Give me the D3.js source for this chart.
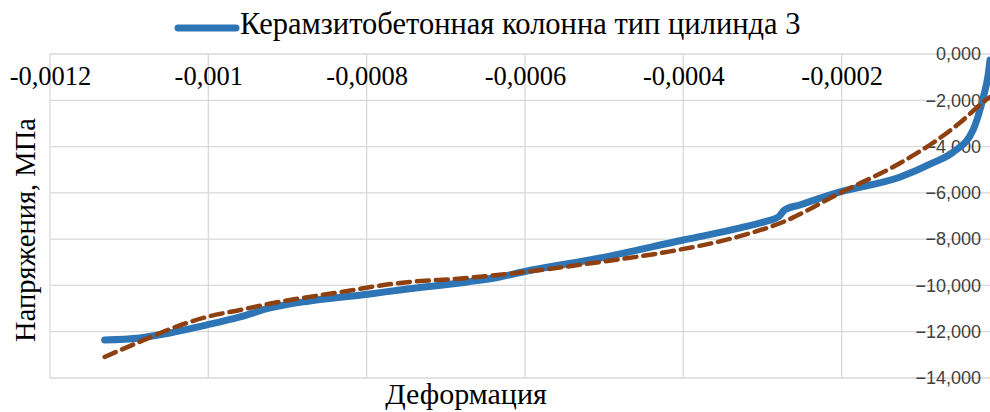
<!DOCTYPE html>
<html>
<head>
<meta charset="utf-8">
<script src="https://cdn.jsdelivr.net/npm/d3@7"></script>
<style>
  body { margin: 0; background: #fff; overflow: hidden; }
  svg { display: block; }
</style>
</head>
<body>
<div id="chart"></div>
<script>
// data
var xTicks = [-0.0012, -0.001, -0.0008, -0.0006, -0.0004, -0.0002];
var yTicks = [0, -2000, -4000, -6000, -8000, -10000, -12000, -14000];

var blueX = [-0.001131, -0.001087, -0.001049, -0.001002, -0.00096, -0.000922, -0.000872, -0.000796, -0.000758,
  -0.000673, -0.000632, -0.000603, -0.000505, -0.0004, -0.000328, -0.000294, -0.00028, -0.000272, -0.000253,
  -0.000202, -0.000126, -0.000085, -0.000059, -0.000034, -0.000028, -0.000021, -0.000015, -0.0000126];
var blueY = [-12355, -12269, -12053, -11707, -11362, -10973, -10670, -10368, -10195,
  -9850, -9634, -9418, -8813, -8035, -7517, -7214, -7042, -6739, -6523,
  -5962, -5314, -4709, -4234, -3283, -2722, -1858, -907, -259];

var trendX = [-0.001131, -0.001087, -0.001045, -0.001002, -0.00096, -0.000918, -0.00084, -0.000758, -0.000673,
  -0.00059, -0.000505, -0.000421, -0.000337, -0.000274, -0.000202, -0.000126, -0.000085, -0.000051, -0.000021, -0.0000126];
var trendY = [-13090, -12442, -11837, -11362, -11059, -10757, -10325, -9893, -9677,
  -9374, -8986, -8554, -7949, -7258, -6005, -4709, -3845, -2981, -2074, -1860];

var legendText = "Керамзитобетонная колонна тип цилинда 3";

var svgWidth = 990;
var svgHeight = 412;

var svg = d3.select("#chart")
  .append("svg")
  .attr("width", svgWidth)
  .attr("height", svgHeight);

var x = d3.scaleLinear().domain([-0.0012, 0]).range([50, 1000]);
var y = d3.scaleLinear().domain([0, -14000]).range([54, 378]);

// gridlines
svg.append("g")
  .selectAll("line.v")
  .data(xTicks)
  .enter()
  .append("line")
  .attr("x1", d => x(d)).attr("x2", d => x(d))
  .attr("y1", y(0)).attr("y2", y(-14000))
  .attr("stroke", "#d9d9d9").attr("stroke-width", 1.3);

svg.append("g")
  .selectAll("line.h")
  .data(yTicks)
  .enter()
  .append("line")
  .attr("x1", x(-0.0012)).attr("x2", x(0))
  .attr("y1", d => y(d)).attr("y2", d => y(d))
  .attr("stroke", "#d9d9d9").attr("stroke-width", 1.3);

// x tick labels (top)
var fmtX = d => String(+d.toPrecision(2)).replace(".", ",");
var xAxis = d3.axisBottom(x).tickValues(xTicks).tickSize(0).tickPadding(0).tickFormat(fmtX);
var gx = svg.append("g").attr("transform", "translate(0, 66)").call(xAxis);
gx.select(".domain").remove();
gx.selectAll("text")
  .attr("font-family", "Liberation Serif, Times New Roman, serif")
  .attr("font-size", "26.5px")
  .attr("fill", "#000")
  .attr("dy", "0.71em");

// y tick labels (right side, left of axis at x=0)
var fmtY = d => d3.format(",.3f")(d / 1000).replace(".", ",");
var yAxis = d3.axisLeft(y).tickValues(yTicks).tickSize(0).tickPadding(0).tickFormat(fmtY);
var gy = svg.append("g").attr("transform", "translate(981, 0)").call(yAxis);
gy.select(".domain").remove();
gy.selectAll("text")
  .attr("font-family", "Liberation Sans, Arial, sans-serif")
  .attr("font-size", "18px")
  .attr("fill", "#404040");

var line = d3.line()
  .x(d => x(d[0]))
  .y(d => y(d[1]))
  .curve(d3.curveMonotoneX);

svg.append("path")
  .datum(blueX.map((v, i) => [v, blueY[i]]))
  .attr("d", line)
  .attr("fill", "none")
  .attr("stroke", "#2e75b6")
  .attr("stroke-width", 7)
  .attr("stroke-linecap", "round")
  .attr("stroke-linejoin", "round");

svg.append("path")
  .datum(trendX.map((v, i) => [v, trendY[i]]))
  .attr("d", line)
  .attr("fill", "none")
  .attr("stroke", "#8f4010")
  .attr("stroke-width", 4.5)
  .attr("stroke-dasharray", "12,7")
  .attr("stroke-linecap", "round");

// legend
svg.append("line")
  .attr("x1", 178).attr("x2", 236)
  .attr("y1", 28).attr("y2", 28)
  .attr("stroke", "#2e75b6")
  .attr("stroke-width", 7)
  .attr("stroke-linecap", "round");

svg.append("text")
  .attr("x", 240).attr("y", 34)
  .attr("font-family", "Liberation Serif, Times New Roman, serif")
  .attr("font-size", "30.5px")
  .attr("fill", "#000")
  .text(legendText);

// axis titles
svg.append("text")
  .attr("transform", "translate(35, 230) rotate(-90)")
  .attr("text-anchor", "middle")
  .attr("font-family", "Liberation Serif, Times New Roman, serif")
  .attr("font-size", "28.5px")
  .attr("fill", "#000")
  .text("Напряжения, МПа");

svg.append("text")
  .attr("x", 466).attr("y", 404)
  .attr("text-anchor", "middle")
  .attr("font-family", "Liberation Serif, Times New Roman, serif")
  .attr("font-size", "30px")
  .attr("fill", "#000")
  .text("Деформация");
</script>
</body>
</html>
